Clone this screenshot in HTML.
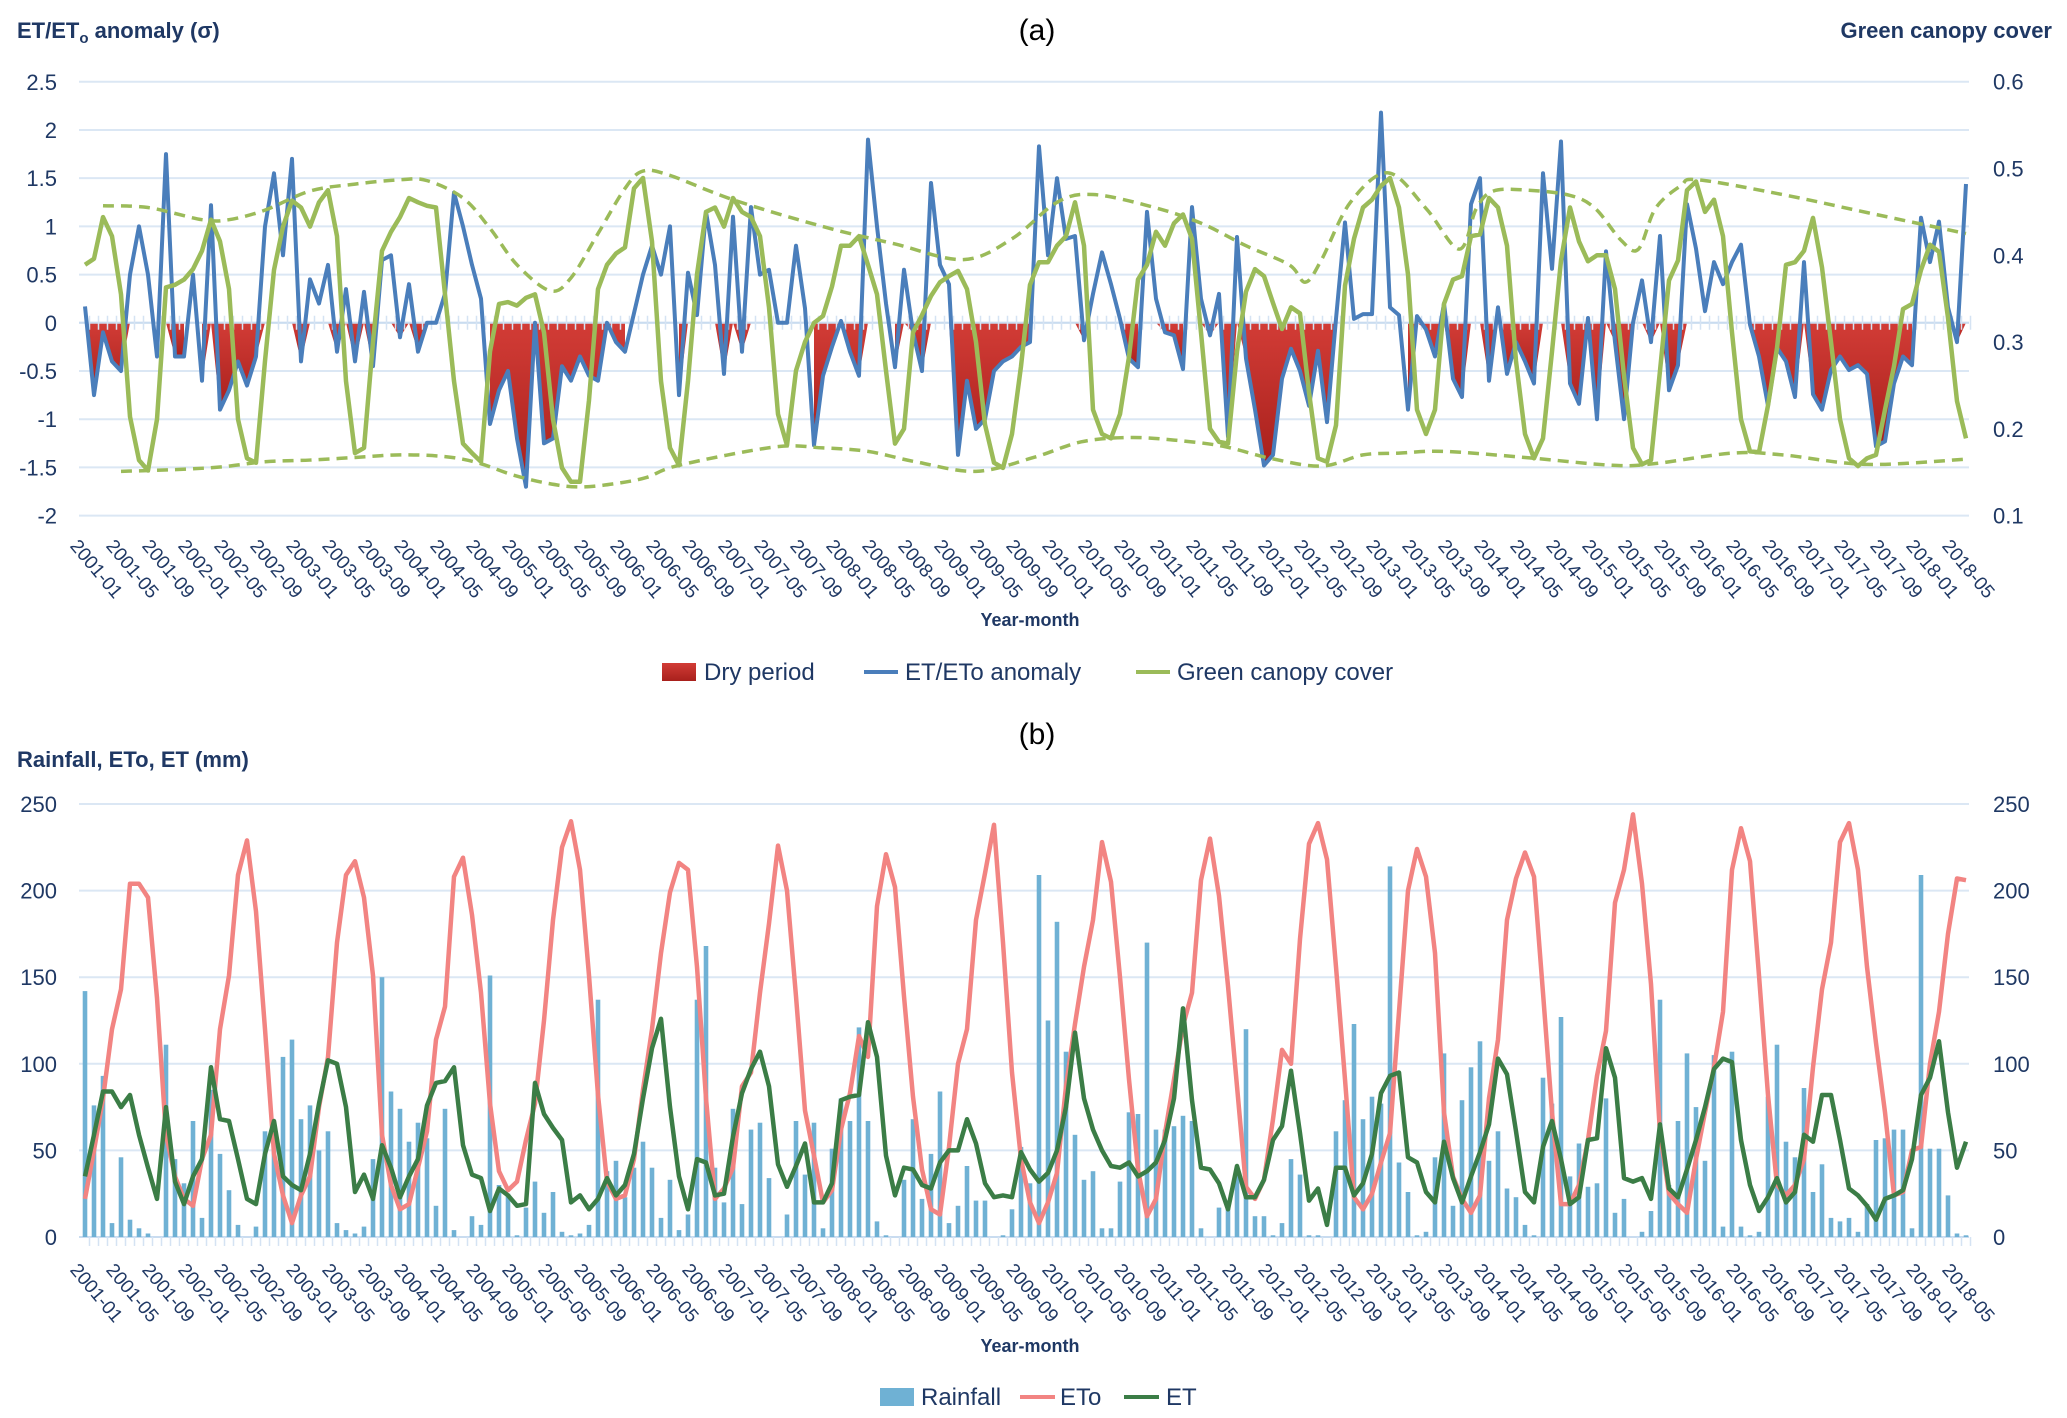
<!DOCTYPE html>
<html><head><meta charset="utf-8"><style>
html,body{margin:0;padding:0;background:#fff}
svg{display:block}
text{font-family:"Liberation Sans",sans-serif}
</style></head><body>
<svg id="fig" width="2067" height="1418" viewBox="0 0 2067 1418" xmlns="http://www.w3.org/2000/svg">
<defs>
<linearGradient id="redg" x1="0" y1="0" x2="0" y2="1"><stop offset="0" stop-color="#d23c36"/><stop offset="1" stop-color="#a8201c"/></linearGradient>
</defs>
<text x="1037" y="40" font-size="30" text-anchor="middle" fill="#000">(a)</text>
<text x="17" y="38" font-size="22" font-weight="bold" fill="#1f3864">ET/ET<tspan font-size="15" dy="5">o</tspan><tspan dy="-5"> anomaly (σ)</tspan></text>
<text x="2052" y="38" font-size="22" font-weight="bold" fill="#1f3864" text-anchor="end">Green canopy cover</text>
<text x="1030" y="626" font-size="18" font-weight="bold" fill="#1f3864" text-anchor="middle">Year-month</text>
<text x="1037" y="744" font-size="30" text-anchor="middle" fill="#000">(b)</text>
<text x="17" y="767" font-size="22" font-weight="bold" fill="#1f3864">Rainfall, ETo, ET (mm)</text>
<text x="1030" y="1352" font-size="18" font-weight="bold" fill="#1f3864" text-anchor="middle">Year-month</text>

<g>
<rect x="662" y="663" width="34" height="18" fill="url(#redg)"/>
<text x="704" y="680" font-size="24" fill="#1f3864">Dry period</text>
<line x1="864" y1="672" x2="898" y2="672" stroke="#4a7ebb" stroke-width="4"/>
<text x="905" y="680" font-size="24" fill="#1f3864">ET/ETo anomaly</text>
<line x1="1136" y1="672" x2="1170" y2="672" stroke="#9bbb59" stroke-width="4"/>
<text x="1177" y="680" font-size="24" fill="#1f3864">Green canopy cover</text>
</g>
<g>
<rect x="880" y="1388" width="34" height="18" fill="#6fb1d4"/>
<text x="921" y="1405" font-size="24" fill="#1f3864">Rainfall</text>
<line x1="1020" y1="1397" x2="1055" y2="1397" stroke="#f28482" stroke-width="4"/>
<text x="1060" y="1405" font-size="24" fill="#1f3864">ETo</text>
<line x1="1124" y1="1397" x2="1159" y2="1397" stroke="#3b7d46" stroke-width="4"/>
<text x="1166" y="1405" font-size="24" fill="#1f3864">ET</text>
</g>
<g id="chartA"></g>
<g id="chartB"></g>
</svg>
<script>
// ---------- data ----------
var monthCount = 210; // 2001-01 .. 2018-06
var anomaly = [0.17,-0.75,-0.1,-0.4,-0.5,0.5,1.0,0.5,-0.35,1.75,-0.35,-0.35,
0.5,-0.6,1.22,-0.9,-0.7,-0.4,-0.65,-0.35,1.0,1.55,0.7,1.7,
-0.4,0.45,0.2,0.6,-0.3,0.35,-0.4,0.32,-0.45,0.65,0.7,-0.15,
0.4,-0.3,0,0,0.3,1.35,1.0,0.6,0.25,-1.05,-0.7,-0.5,
-1.2,-1.7,0,-1.25,-1.2,-0.45,-0.6,-0.35,-0.55,-0.6,0,-0.2,
-0.3,0.1,0.5,0.8,0.5,1.0,-0.75,0.52,0.08,1.15,0.6,-0.53,
1.1,-0.3,1.2,0.5,0.55,0,0,0.8,0.15,-1.27,-0.55,-0.25,
0.02,-0.3,-0.55,1.9,1.0,0.2,-0.46,0.55,-0.1,-0.5,1.45,0.6,
0.4,-1.37,-0.6,-1.1,-1.0,-0.5,-0.4,-0.35,-0.25,-0.2,1.83,0.7,
1.5,0.87,0.9,-0.18,0.3,0.73,0.4,0.04,-0.37,-0.46,1.15,0.25,
-0.1,-0.13,-0.48,1.2,0.25,-0.13,0.3,-1.18,0.89,-0.37,-0.9,-1.48,
-1.37,-0.58,-0.27,-0.5,-0.86,-0.29,-1.03,0.04,1.04,0.04,0.09,0.09,
2.18,0.16,0.08,-0.9,0.07,-0.07,-0.35,0.2,-0.58,-0.77,1.23,1.5,
-0.6,0.16,-0.53,-0.2,-0.4,-0.63,1.55,0.56,1.88,-0.63,-0.84,0.05,
-1.0,0.74,-0.2,-1.0,0,0.44,-0.2,0.9,-0.7,-0.44,1.23,0.77,
0.12,0.63,0.4,0.63,0.81,-0.02,-0.35,-0.86,-0.26,-0.4,-0.77,0.63,
-0.74,-0.9,-0.49,-0.35,-0.49,-0.44,-0.53,-1.28,-1.23,-0.63,-0.35,-0.44,
1.09,0.63,1.05,0.16,-0.2,1.44];
var canopy = [0.389,0.396,0.444,0.422,0.355,0.214,0.164,0.152,0.211,0.363,0.366,0.372,
0.384,0.405,0.441,0.416,0.361,0.211,0.166,0.161,0.278,0.383,0.433,0.463,
0.455,0.433,0.461,0.475,0.422,0.255,0.172,0.178,0.300,0.405,0.427,0.444,
0.466,0.461,0.457,0.455,0.355,0.255,0.183,0.172,0.162,0.289,0.344,0.346,
0.342,0.351,0.355,0.311,0.211,0.155,0.139,0.139,0.233,0.361,0.389,0.402,
0.409,0.477,0.489,0.416,0.255,0.178,0.158,0.255,0.378,0.450,0.455,0.433,
0.466,0.450,0.444,0.422,0.340,0.217,0.181,0.267,0.300,0.322,0.330,0.364,
0.411,0.411,0.422,0.389,0.355,0.267,0.183,0.200,0.311,0.331,0.353,0.369,
0.376,0.382,0.361,0.300,0.205,0.161,0.155,0.194,0.272,0.366,0.392,0.392,
0.411,0.422,0.461,0.411,0.222,0.194,0.189,0.217,0.283,0.372,0.389,0.427,
0.411,0.437,0.447,0.419,0.311,0.200,0.185,0.183,0.289,0.358,0.384,0.376,
0.345,0.315,0.340,0.333,0.242,0.166,0.162,0.204,0.365,0.419,0.455,0.464,
0.480,0.489,0.455,0.378,0.222,0.194,0.222,0.344,0.372,0.376,0.422,0.424,
0.466,0.455,0.411,0.278,0.194,0.166,0.189,0.289,0.394,0.455,0.416,0.393,
0.400,0.400,0.361,0.261,0.178,0.159,0.164,0.267,0.371,0.394,0.475,0.485,
0.450,0.464,0.422,0.311,0.211,0.174,0.173,0.227,0.293,0.389,0.392,0.405,
0.443,0.386,0.300,0.211,0.166,0.157,0.166,0.170,0.222,0.272,0.338,0.344,
0.383,0.412,0.404,0.328,0.232,0.189];
var dryStart = [0,9,13,23,27,34,45,66,70,81,90,95,110,115,119,124,147,155,164,173,185,208];
var dryEnd   = [5,11,20,25,32,38,60,67,74,87,94,105,111,117,122,140,154,162,172,178,203,209];
var upperEnvMonth = [2,7,13,16,20,25,30,35,38,42,45,48,51.7,54,57,60,62,65,72,82,90,97.6,103,108,112,118.5,124,129,133.8,135.6,137.4,140.6,144.8,149,152.7,154.6,156.5,160.3,165,167.8,170.7,172.6,174.5,177.3,179.2,188.6,198.1,209];
var upperEnvValue = [0.457,0.455,0.441,0.441,0.452,0.474,0.482,0.487,0.486,0.466,0.431,0.389,0.359,0.374,0.425,0.477,0.497,0.492,0.464,0.433,0.413,0.395,0.419,0.461,0.470,0.456,0.437,0.411,0.389,0.369,0.395,0.461,0.495,0.454,0.407,0.454,0.474,0.475,0.469,0.454,0.417,0.407,0.454,0.480,0.487,0.470,0.449,0.425];
var lowerEnvMonth = [4,10,15,20,25,30,35,40,43.6,47.5,51.5,55,59,62.4,66,76.6,82,87,92.3,99,105.4,110.7,116,121,126.4,131.7,137.4,142,146,151,160,169.7,174.5,183,188.6,198,209];
var lowerEnvValue = [0.151,0.153,0.156,0.162,0.164,0.167,0.170,0.168,0.161,0.147,0.137,0.133,0.137,0.144,0.158,0.179,0.178,0.174,0.162,0.151,0.167,0.185,0.190,0.187,0.180,0.166,0.157,0.170,0.172,0.174,0.167,0.158,0.160,0.172,0.170,0.159,0.165];
var rainfall = [142,76,93,8,46,10,5,2,0,111,45,31,
67,11,85,48,27,7,0,6,61,60,104,114,
68,76,50,61,8,4,2,6,45,150,84,74,
55,66,57,18,74,4,0,12,7,151,30,25,
1,17,32,14,26,3,1,2,7,137,38,44,
23,40,55,40,11,33,4,13,137,168,40,20,
74,19,62,66,34,0,13,67,36,66,5,51,
80,67,121,67,9,1,0,33,68,22,48,84,
8,18,41,21,21,0,1,16,52,31,209,125,
182,107,59,33,38,5,5,32,72,71,170,62,
62,64,70,67,5,0,17,18,37,120,12,12,
1,8,45,36,1,1,0,61,79,123,68,81,
77,214,43,26,1,3,46,106,18,79,98,113,
44,61,28,23,7,1,92,77,127,35,54,29,
31,80,14,22,0,3,15,137,30,67,106,75,
44,105,6,107,6,1,3,81,111,55,46,86,
26,42,11,9,11,3,19,56,57,62,62,5,
209,51,51,24,2,1];
var eto = [22,50,80,120,143,204,204,196,138,59,35,22,
18,45,59,120,151,209,229,188,120,48,24,8,
24,35,75,104,170,209,217,196,151,59,30,16,
19,40,61,114,133,208,219,186,141,77,38,27,
32,56,77,125,183,225,240,212,151,82,32,22,
24,45,85,120,164,199,216,212,156,80,22,28,
40,87,95,141,181,226,200,139,73,47,20,27,
62,83,116,104,191,221,202,139,81,39,16,13,
52,100,120,183,210,238,170,95,45,20,8,20,
37,87,123,156,183,228,205,150,91,39,12,22,
60,91,122,141,206,230,197,145,87,29,22,33,
68,108,100,172,227,239,218,156,91,23,16,25,
43,60,130,200,224,208,164,72,35,22,14,24,
80,114,183,207,222,208,141,72,19,19,30,56,
93,119,193,212,244,204,146,60,25,19,14,45,
72,98,130,212,236,217,151,82,30,24,30,45,
98,143,170,228,239,212,156,112,72,24,26,50,
52,100,130,175,207,206];
var et = [35,59,84,84,75,82,59,40,22,75,32,19,
35,45,98,68,67,45,22,19,48,67,35,30,
27,48,77,102,100,75,26,36,22,53,40,23,
35,45,76,89,90,98,53,36,34,15,28,24,
18,19,89,71,63,56,20,24,16,22,34,24,
30,48,80,109,126,75,35,16,45,43,24,25,
58,83,97,107,87,42,29,41,54,20,20,31,
79,81,82,124,104,47,24,40,39,30,28,43,
50,50,68,54,31,23,24,23,49,39,32,37,
50,75,118,80,62,50,41,40,43,35,38,43,
56,80,132,79,40,39,31,16,41,23,23,33,
56,64,96,60,21,28,7,40,40,24,31,48,
83,93,95,46,43,26,20,55,34,20,35,49,
65,103,94,61,26,20,52,67,45,19,23,56,
57,109,92,34,32,34,22,65,28,23,39,56,
75,97,103,101,56,30,15,23,34,20,26,59,
55,82,82,56,28,24,18,10,22,24,27,45,
82,92,113,72,40,55];
var ticksA = [2.5,2,1.5,1,0.5,0,-0.5,-1,-1.5,-2];
var ticksA2 = [0.6,0.5,0.4,0.3,0.2,0.1];
var ticksB = [250,200,150,100,50,0];

// ---------- axes ----------
var NS = "http://www.w3.org/2000/svg";
function xM(m){ return 85 + m*(1966-85)/209; }
function yA(v){ return 322.8 - v*96.42; }           // anomaly axis: 2.5->81.7, -2->515.6
function yC(c){ return 515.6 - (c-0.1)*867.8; }      // canopy axis: 0.6->81.7, 0.1->515.6
function yB(v){ return 1237 - v*1.732; }             // mm axis
function mk(parent, tag, attrs){ var e=document.createElementNS(NS,tag); for(var k in attrs) e.setAttribute(k, attrs[k]); parent.appendChild(e); return e; }
function label(m){ var y=2001+Math.floor(m/12), mo=m%12+1; return y+"-"+(mo<10?"0":"")+mo; }
function smooth(px){ var d="M"+px[0][0]+","+px[0][1];
  for(var i=0;i<px.length-1;i++){ var p0=px[i-1]||px[i],p1=px[i],p2=px[i+1],p3=px[i+2]||p2;
    d+=" C"+(p1[0]+(p2[0]-p0[0])/6)+","+(p1[1]+(p2[1]-p0[1])/6)+" "+(p2[0]-(p3[0]-p1[0])/6)+","+(p2[1]-(p3[1]-p1[1])/6)+" "+p2[0]+","+p2[1]; }
  return d; }

var A = document.getElementById('chartA');
var B = document.getElementById('chartB');
var el, i, m;

// ---- chart A grid ----
for(i=0;i<ticksA.length;i++){
  var gy=yA(ticksA[i]);
  el=mk(A,'line',{x1:79,x2:1969,y1:gy,y2:gy,stroke:'#dbe7f4','stroke-width':2});
  
  
  el=mk(A,'text',{x:57,y:gy+8,'font-size':22,'text-anchor':'end',fill:'#1f3864'});
  el.textContent=String(ticksA[i]);
  
  
}
for(i=0;i<ticksA2.length;i++){
  el=mk(A,'text',{x:1993,y:yC(ticksA2[i])+8,'font-size':22,fill:'#1f3864'});
  el.textContent=ticksA2[i].toFixed(1);
  
  
}
// dry period fills
for(i=0;i<dryStart.length;i++){
  var pts=[[xM(dryStart[i]),yA(0)]];
  for(m=dryStart[i];m<=dryEnd[i];m++) pts.push([xM(m),yA(Math.min(anomaly[m],0))]);
  pts.push([xM(dryEnd[i]),yA(0)]);
  el=mk(A,'polygon',{points:pts.map(function(p){return p.join(',');}).join(' '),fill:'url(#redg)'});
  
  
}
// zero axis with ticks
el=mk(A,'line',{x1:79,x2:1969,y1:yA(0),y2:yA(0),stroke:'#c9dcf0','stroke-width':2});


var tk="";
for(m=0;m<monthCount;m++){ var tx=xM(m)+4.5; tk+="M"+tx+","+(yA(0)-7)+"V"+(yA(0)+7); }
el=mk(A,'path',{d:tk,stroke:'#d5e3f3','stroke-width':1.5,fill:'none'});


// x labels
for(m=0;m<monthCount;m+=4){
  var lx=xM(m)-6, ly=538;
  el=mk(A,'text',{x:lx,y:ly,'font-size':19,fill:'#1f3864','dominant-baseline':'hanging',transform:'rotate(50 '+lx+' '+ly+')'});
  el.textContent=label(m);
  
  
  lx=xM(m)-6; ly=1262;
  el=mk(B,'text',{x:lx,y:ly,'font-size':19,fill:'#1f3864','dominant-baseline':'hanging',transform:'rotate(50 '+lx+' '+ly+')'});
  el.textContent=label(m);
  
  
}
// anomaly line
var d="";
for(m=0;m<monthCount;m++) d+=(m?"L":"M")+xM(m).toFixed(1)+","+yA(anomaly[m]).toFixed(1);
el=mk(A,'path',{d:d,stroke:'#4a7ebb','stroke-width':4,fill:'none','stroke-linejoin':'round'});


// canopy line
d="";
for(m=0;m<monthCount;m++) d+=(m?"L":"M")+xM(m).toFixed(1)+","+yC(canopy[m]).toFixed(1);
el=mk(A,'path',{d:d,stroke:'#9bbb59','stroke-width':4.5,fill:'none','stroke-linejoin':'round'});


// envelopes
var up=[],lo=[];
for(i=0;i<upperEnvMonth.length;i++) up.push([xM(upperEnvMonth[i]),yC(upperEnvValue[i])]);
for(i=0;i<lowerEnvMonth.length;i++) lo.push([xM(lowerEnvMonth[i]),yC(lowerEnvValue[i])]);
el=mk(A,'path',{d:smooth(up),stroke:'#9bbb59','stroke-width':3.5,fill:'none','stroke-dasharray':'11 7'});


el=mk(A,'path',{d:smooth(lo),stroke:'#9bbb59','stroke-width':3.5,fill:'none','stroke-dasharray':'11 7'});



// ---- chart B ----
for(i=0;i<ticksB.length;i++){
  var by=yB(ticksB[i]);
  el=mk(B,'line',{x1:79,x2:1969,y1:by,y2:by,stroke:ticksB[i]===0?'#c9dcf0':'#dbe7f4','stroke-width':2});
  
  
  el=mk(B,'text',{x:57,y:by+8,'font-size':22,'text-anchor':'end',fill:'#1f3864'});
  el.textContent=String(ticksB[i]);
  
  
  el=mk(B,'text',{x:1993,y:by+8,'font-size':22,fill:'#1f3864'});
  el.textContent=String(ticksB[i]);
  
  
}
tk="";
for(m=0;m<monthCount;m++){ var tx2=xM(m)+4.5; tk+="M"+tx2+","+yB(0)+"V"+(yB(0)+9); }
el=mk(B,'path',{d:tk,stroke:'#d5e3f3','stroke-width':1.5,fill:'none'});


for(m=0;m<monthCount;m++){
  var h=rainfall[m]*1.732;
  el=mk(B,'rect',{x:(xM(m)-2.3).toFixed(1),y:(yB(rainfall[m])).toFixed(1),width:4.6,height:h.toFixed(1),fill:'#6fb1d4'});
  
  
}
d="";
for(m=0;m<monthCount;m++) d+=(m?"L":"M")+xM(m).toFixed(1)+","+yB(eto[m]).toFixed(1);
el=mk(B,'path',{d:d,stroke:'#f28482','stroke-width':4.5,fill:'none','stroke-linejoin':'round'});


d="";
for(m=0;m<monthCount;m++) d+=(m?"L":"M")+xM(m).toFixed(1)+","+yB(et[m]).toFixed(1);
el=mk(B,'path',{d:d,stroke:'#3b7d46','stroke-width':4.5,fill:'none','stroke-linejoin':'round'});


</script>
</body></html>
